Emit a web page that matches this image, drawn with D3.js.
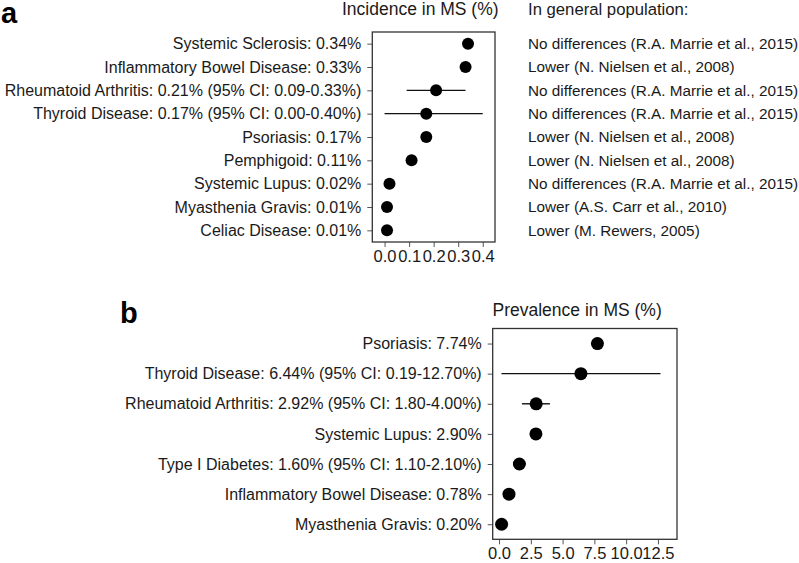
<!DOCTYPE html>
<html>
<head>
<meta charset="utf-8">
<script src="https://cdn.jsdelivr.net/npm/d3@7"></script>
<style>
  body { margin: 0; background: #fff; }
  svg { display: block; font-family: "Liberation Sans", Arial, Helvetica, sans-serif; }
</style>
</head>
<body>
<svg width="799" height="563"></svg>
<script>
// panel a - incidence
let incidenceLabels = ["Systemic Sclerosis: 0.34%", "Inflammatory Bowel Disease: 0.33%",
  "Rheumatoid Arthritis: 0.21% (95% CI: 0.09-0.33%)", "Thyroid Disease: 0.17% (95% CI: 0.00-0.40%)",
  "Psoriasis: 0.17%", "Pemphigoid: 0.11%", "Systemic Lupus: 0.02%", "Myasthenia Gravis: 0.01%",
  "Celiac Disease: 0.01%"]
let incidenceValues = [0.34, 0.33, 0.21, 0.17, 0.17, 0.11, 0.02, 0.01, 0.01]
let incidenceLow = [null, null, 0.09, 0.00, null, null, null, null, null]
let incidenceHigh = [null, null, 0.33, 0.40, null, null, null, null, null]
let populationNotes = ["No differences (R.A. Marrie et al., 2015)", "Lower (N. Nielsen et al., 2008)",
  "No differences (R.A. Marrie et al., 2015)", "No differences (R.A. Marrie et al., 2015)",
  "Lower (N. Nielsen et al., 2008)", "Lower (N. Nielsen et al., 2008)",
  "No differences (R.A. Marrie et al., 2015)", "Lower (A.S. Carr et al., 2010)", "Lower (M. Rewers, 2005)"]
let incidenceTicks = [0.0, 0.1, 0.2, 0.3, 0.4]

// panel b - prevalence
let prevalenceLabels = ["Psoriasis: 7.74%", "Thyroid Disease: 6.44% (95% CI: 0.19-12.70%)",
  "Rheumatoid Arthritis: 2.92% (95% CI: 1.80-4.00%)", "Systemic Lupus: 2.90%",
  "Type I Diabetes: 1.60% (95% CI: 1.10-2.10%)", "Inflammatory Bowel Disease: 0.78%", "Myasthenia Gravis: 0.20%"]
let prevalenceValues = [7.74, 6.44, 2.92, 2.90, 1.60, 0.78, 0.20]
let prevalenceLow = [null, 0.19, 1.80, null, 1.10, null, null]
let prevalenceHigh = [null, 12.70, 4.00, null, 2.10, null, null]
let prevalenceTicks = [0.0, 2.5, 5.0, 7.5, 10.0, 12.5]

let svg = d3.select("svg")
svg.append("rect").attr("width", 799).attr("height", 563).attr("fill", "#fff")

function drawPanel(opt) {
  let n = opt.labels.length
  let x = d3.scaleLinear().domain(opt.xDomain).range([opt.left, opt.right])
  let y = d3.scaleLinear().domain([0.5, n + 0.5]).range([opt.top, opt.bottom])
  let g = svg.append("g")

  // x axis
  let xa = g.append("g")
    .attr("transform", `translate(0,${opt.bottom})`)
    .call(d3.axisBottom(x).tickValues(opt.ticks).tickSize(5).tickPadding(3).tickFormat(d3.format(".1f")))
  xa.select(".domain").remove()
  xa.selectAll(".tick line").attr("stroke", "#555").attr("stroke-width", 1)
  xa.selectAll(".tick text").attr("font-size", opt.tickSize).attr("fill", "#1a1a1a")
    .attr("font-family", "Liberation Sans, Arial, sans-serif")

  // y axis with the labels
  let ya = g.append("g")
    .attr("transform", `translate(${opt.left},0)`)
    .call(d3.axisLeft(y).tickValues(d3.range(1, n + 1)).tickSize(5).tickPadding(6)
      .tickFormat(i => opt.labels[i - 1]))
  ya.select(".domain").remove()
  ya.selectAll(".tick line").attr("stroke", "#555").attr("stroke-width", 1)
  ya.selectAll(".tick text").attr("font-size", 16).attr("fill", "#1a1a1a")
    .attr("font-family", "Liberation Sans, Arial, sans-serif")

  // box
  g.append("rect")
    .attr("x", opt.left).attr("y", opt.top)
    .attr("width", opt.right - opt.left).attr("height", opt.bottom - opt.top)
    .attr("fill", "none").attr("stroke", "#333").attr("stroke-width", 1.3)

  // error bars
  let idx = d3.range(n).filter(i => opt.low[i] != null)
  g.selectAll(".err").data(idx).join("line")
    .attr("x1", i => x(opt.low[i])).attr("x2", i => x(opt.high[i]))
    .attr("y1", i => y(i + 1)).attr("y2", i => y(i + 1))
    .attr("stroke", "#111").attr("stroke-width", 1.4)

  // points
  g.selectAll(".pt").data(opt.values).join("circle")
    .attr("cx", d => x(d)).attr("cy", (d, i) => y(i + 1))
    .attr("r", opt.r).attr("fill", "#000")

  // title
  g.append("text").attr("x", opt.titleX).attr("y", opt.titleY)
    .attr("font-size", 17.5).attr("fill", "#1a1a1a").text(opt.title)

  return y
}

let yA = drawPanel({
  labels: incidenceLabels, values: incidenceValues, low: incidenceLow, high: incidenceHigh,
  ticks: incidenceTicks, xDomain: [-0.05, 0.45],
  left: 372.3, right: 495, top: 32, bottom: 242, r: 6,
  tickSize: 16.5, title: "Incidence in MS (%)", titleX: 342, titleY: 15
})

let yB = drawPanel({
  labels: prevalenceLabels, values: prevalenceValues, low: prevalenceLow, high: prevalenceHigh,
  ticks: prevalenceTicks, xDomain: [-0.5, 14.0],
  left: 492.7, right: 677, top: 328.5, bottom: 539.3, r: 6.5,
  tickSize: 16.5, title: "Prevalence in MS (%)", titleX: 492.5, titleY: 316
})

// general population column
svg.append("text").attr("x", 528).attr("y", 14.5)
  .attr("font-size", 16.7).attr("fill", "#1a1a1a").text("In general population:")
svg.selectAll(".note").data(populationNotes).join("text")
  .attr("x", 528).attr("y", (d, i) => yA(i + 1)).attr("dy", "0.35em")
  .attr("font-size", 15.3).attr("fill", "#1a1a1a").text(d => d)

// panel letters
svg.append("text").attr("x", 1).attr("y", 23).attr("font-size", 29).attr("font-weight", "bold").text("a")
svg.append("text").attr("x", 120).attr("y", 323).attr("font-size", 29).attr("font-weight", "bold").text("b")
</script>
</body>
</html>
